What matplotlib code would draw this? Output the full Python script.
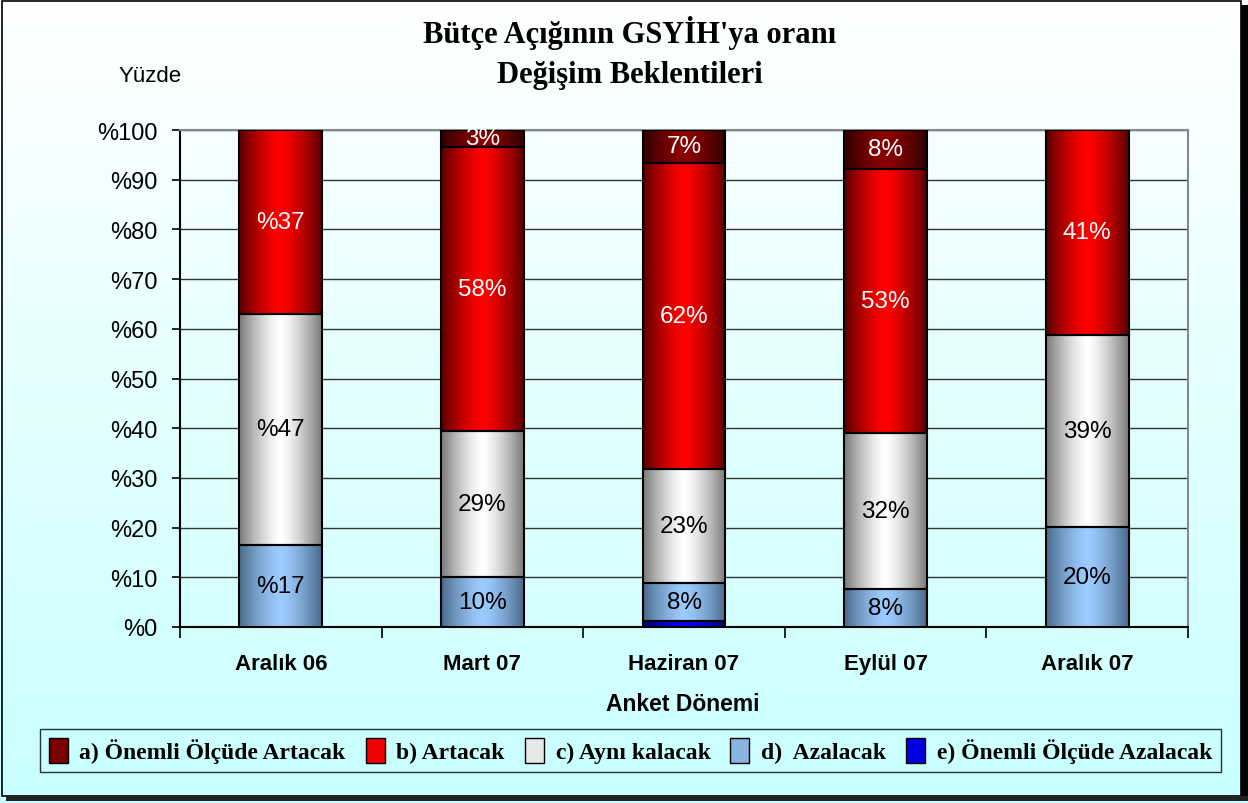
import numpy as np
import matplotlib.pyplot as plt
from matplotlib.colors import LinearSegmentedColormap
from matplotlib.patches import Rectangle

# survey periods and shares (percent), bottom to top: e, d, c, b, a
periods = ['Aralık 06', 'Mart 07', 'Haziran 07', 'Eylül 07', 'Aralık 07']
e_vals = [0, 0, 1.2, 0, 0]
d_vals = [16.5, 10.0, 7.7, 7.6, 20.1]
c_vals = [46.5, 29.4, 22.9, 31.4, 38.7]
b_vals = [37.0, 57.2, 61.6, 53.2, 41.2]
a_vals = [0, 3.4, 6.6, 7.8, 0]

e_lbl = ['', '', '', '', '']
d_lbl = ['%17', '10%', '8%', '8%', '20%']
c_lbl = ['%47', '29%', '23%', '32%', '39%']
b_lbl = ['%37', '58%', '62%', '53%', '41%']
a_lbl = ['', '3%', '7%', '8%', '']

names = ['e) Önemli Ölçüde Azalacak', 'd)  Azalacak', 'c) Aynı kalacak',
         'b) Artacak', 'a) Önemli Ölçüde Artacak']
yticks = list(range(0, 101, 10))
ytick_lbl = ['%' + str(v) for v in yticks]

# styles: (edge colour, centre colour, text colour)
styles = [('#000070', '#0000ff', 'white'),
          ('#4a6a8a', '#9cccff', 'black'),
          ('#7a7a7a', '#ffffff', 'black'),
          ('#5a0000', '#ff0000', 'white'),
          ('#2e0000', '#8c0000', 'white')]

fig = plt.figure(figsize=(12.48, 8.04), dpi=100)

# background with soft vertical gradient and frame
bg = fig.add_axes([0, 0, 1, 1], zorder=-5)
bgcmap = LinearSegmentedColormap.from_list('bg', ['#ffffff', '#c8ffff'])
bg.imshow(np.linspace(0, 1, 256).reshape(-1, 1), cmap=bgcmap, aspect='auto',
          extent=[0, 1248, 804, 0])
bg.set_xlim(0, 1248)
bg.set_ylim(804, 0)
bg.add_patch(Rectangle((2, 2), 1239, 795, fill=False, ec='black', lw=1.2))
bg.add_patch(Rectangle((1241, 6), 7, 796, fc='black', ec='none'))
bg.add_patch(Rectangle((6, 797), 1242, 5, fc='#222222', ec='none'))
bg.axis('off')

ax = fig.add_axes([180 / 1248, 1 - 628 / 804, 1008 / 1248, 497 / 804])
ax.set_facecolor('none')

x = np.arange(len(periods))
t = np.linspace(0, 1, 128)
prof = 1 - np.abs(2 * t - 1) ** 1.4
grad = prof.reshape(1, -1)

series_vals = [e_vals, d_vals, c_vals, b_vals, a_vals]
series_lbl = [e_lbl, d_lbl, c_lbl, b_lbl, a_lbl]
bottom = np.zeros(len(periods))
for vals, lbls, (c0, c1, tc) in zip(series_vals, series_lbl, styles):
    vals = np.array(vals)
    bars = ax.bar(x, vals, width=0.41, bottom=bottom, facecolor='none',
                  edgecolor='black', linewidth=1.5, zorder=4)
    cmap = LinearSegmentedColormap.from_list('g', [c0, c1])
    for p, v in zip(bars.patches, vals):
        if v <= 0:
            p.set_linewidth(0)
            continue
        ax.imshow(grad, cmap=cmap, aspect='auto', interpolation='bicubic',
                  extent=[p.get_x(), p.get_x() + p.get_width(),
                          p.get_y(), p.get_y() + p.get_height()], zorder=3)
    for xi, b, v, s in zip(x, bottom, vals, lbls):
        if s:
            ax.text(xi, b + v / 2, s, ha='center', va='center', color=tc,
                    fontsize=17.5, family='Liberation Sans', zorder=5)
    bottom = bottom + vals

ax.set_xlim(-0.5, 4.5)
ax.set_ylim(0, 100)
ax.set_yticks(yticks)
ax.set_yticklabels(ytick_lbl, fontsize=17, family='Liberation Sans')
ax.tick_params(axis='y', length=6, width=1.2, pad=10, color='black')
ax.set_xticks(x)
ax.set_xticklabels(periods, fontsize=16, fontweight='bold', family='Liberation Sans')
ax.set_xticks(np.arange(-0.5, 4.6, 1), minor=True)
ax.tick_params(axis='x', which='major', length=0, pad=19)
ax.tick_params(axis='x', which='minor', length=8, width=1.2, color='black')
ax.yaxis.grid(True, color='#333333', lw=1)
ax.set_axisbelow(True)
for s in ['left', 'bottom']:
    ax.spines[s].set_color('black')
    ax.spines[s].set_linewidth(1.5)
for s in ['top', 'right']:
    ax.spines[s].set_color('#888888')
    ax.spines[s].set_linewidth(1.5)

fig.text(630 / 1248, 1 - 33 / 804, "Bütçe Açığının GSYİH'ya oranı", ha='center',
         va='center', fontsize=22, fontweight='bold', family='Liberation Serif')
fig.text(630 / 1248, 1 - 75 / 804, 'Değişim Beklentileri', ha='center',
         va='center', fontsize=22, fontweight='bold', family='Liberation Serif')
fig.text(150 / 1248, 1 - 77 / 804, 'Yüzde', ha='center', va='center',
         fontsize=16, family='Liberation Sans')
fig.text(683 / 1248, 1 - 705 / 804, 'Anket Dönemi', ha='center', va='center',
         fontsize=16.5, fontweight='bold', family='Liberation Sans')

handles = [Rectangle((0, 0), 1, 1, fc=c, ec='black', lw=1)
           for c in ['#7a0000', '#f00000', '#e8e8e8', '#8ab4e0', '#0000e0']]
leg = fig.legend(handles, names[::-1], loc='center', bbox_to_anchor=(0.5052, 0.0653),
                 ncol=5, frameon=True, fancybox=False, edgecolor='black',
                 facecolor='none', handlelength=0.8, handleheight=1.3,
                 handletextpad=0.5, columnspacing=0.85, borderpad=0.35,
                 prop={'family': 'Liberation Serif', 'weight': 'bold', 'size': 17})
leg.get_frame().set_linewidth(1)

fig.savefig('out.png', dpi=100)
